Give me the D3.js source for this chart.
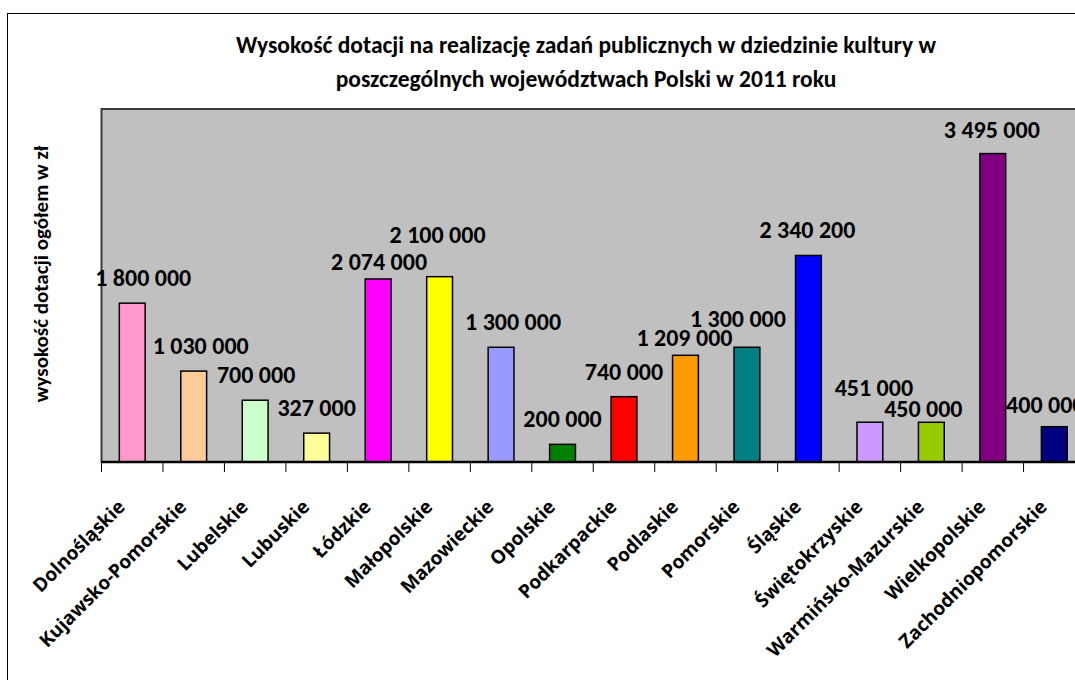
<!DOCTYPE html>
<html>
<head>
<meta charset="utf-8">
<script src="https://cdn.jsdelivr.net/npm/d3@7/dist/d3.min.js"></script>
<style>
  body { margin: 0; background: #fff; }
  svg { display: block; }
  .title, .ylabel, .value { font-family: Carlito, Lato, sans-serif; font-weight: bold; fill: #000; }
  .cat { font-family: "Open Sans", sans-serif; font-weight: bold; fill: #000; }
</style>
</head>
<body>
<svg id="chart" width="1075" height="680"></svg>
<script>
const titleLines = [
  "Wysokość dotacji na realizację zadań publicznych w dziedzinie kultury w",
  "poszczególnych województwach Polski w 2011 roku"
];
const yTitle = "wysokość dotacji ogółem w zł";

const categories = [
  "Dolnośląskie", "Kujawsko-Pomorskie", "Lubelskie", "Lubuskie", "Łódzkie",
  "Małopolskie", "Mazowieckie", "Opolskie", "Podkarpackie", "Podlaskie",
  "Pomorskie", "Śląskie", "Świętokrzyskie", "Warmińsko-Mazurskie",
  "Wielkopolskie", "Zachodniopomorskie"
];
const values = [
  1800000, 1030000, 700000, 327000, 2074000,
  2100000, 1300000, 200000, 740000, 1209000,
  1300000, 2340200, 451000, 450000,
  3495000, 400000
];
const barColors = [
  "#FF99CC", "#FFCC99", "#CCFFCC", "#FFFF99", "#FF00FF",
  "#FFFF00", "#9999FF", "#008000", "#FF0000", "#FF9900",
  "#008080", "#0000FF", "#CC99FF", "#99CC00",
  "#800080", "#000080"
];
// hand-moved data labels in the original: [dx, dy] from the default spot
const labelShift = [
  [11, 0], [7, 0], [1, 0], [0, 0], [1, 8],
  [-2, -17], [12, 0], [0, 0], [0, 0], [-1, 8],
  [-9, -3], [-1, 0], [4, -9], [-8, 12],
  [-1, 1], [-9, 3]
];

const svg = d3.select("#chart");
const plot = { left: 101.5, top: 109, bottom: 462, step: 61.47 };
const plotRight = plot.left + plot.step * categories.length;

const fmt = d3.formatLocale({ decimal: ",", thousands: " ", grouping: [3], currency: ["", ""] }).format(",");

const x = d3.scaleBand()
  .domain(categories)
  .range([plot.left, plotRight])
  .padding(0);

const y = d3.scaleLinear()
  .domain([0, 4000000])
  .range([plot.bottom, plot.top]);

// outer chart frame
svg.append("rect")
  .attr("x", 7.5).attr("y", 13.5)
  .attr("width", 1200).attr("height", 800)
  .attr("fill", "#fff").attr("stroke", "#000").attr("stroke-width", 1);

// plot area
svg.append("rect")
  .attr("x", plot.left).attr("y", plot.top)
  .attr("width", plotRight - plot.left).attr("height", plot.bottom - plot.top)
  .attr("fill", "#C0C0C0").attr("stroke", "#3a3a3a").attr("stroke-width", 2);

// title
svg.append("text")
  .attr("class", "title")
  .attr("text-anchor", "middle")
  .style("font-size", "23.5px")
  .selectAll("tspan")
  .data(titleLines)
  .join("tspan")
  .attr("x", 586)
  .attr("y", (d, i) => 53 + i * 34)
  .text(d => d);

// y title
svg.append("text")
  .attr("class", "ylabel")
  .attr("text-anchor", "middle")
  .style("font-size", "21px")
  .attr("transform", "translate(48,274) rotate(-90)")
  .text(yTitle);

// bars
const bw = x.bandwidth() * 0.42;
svg.selectAll("rect.bar")
  .data(values)
  .join("rect")
  .attr("class", "bar")
  .attr("x", (d, i) => x(categories[i]) + (x.bandwidth() - bw) / 2)
  .attr("y", d => y(d))
  .attr("width", bw)
  .attr("height", d => y(0) - y(d))
  .attr("fill", (d, i) => barColors[i])
  .attr("stroke", "#000")
  .attr("stroke-width", 1.5);

// x axis line + ticks between categories
const axisG = svg.append("g").attr("transform", `translate(0,${plot.bottom})`);
axisG.append("line")
  .attr("x1", plot.left).attr("x2", plotRight)
  .attr("stroke", "#000").attr("stroke-width", 2.5);
axisG.selectAll("line.tick")
  .data(categories)
  .join("line")
  .attr("class", "tick")
  .attr("x1", d => x(d)).attr("x2", d => x(d))
  .attr("y1", 1).attr("y2", 10)
  .attr("stroke", "#000").attr("stroke-width", 1);

// category labels
svg.selectAll("text.cat")
  .data(categories)
  .join("text")
  .attr("class", "cat")
  .attr("text-anchor", "end")
  .style("font-size", "19px")
  .attr("transform", d => `translate(${x(d) + x.bandwidth() / 2 - 6},${plot.bottom + 46}) rotate(-45)`)
  .text(d => d);

// value labels
svg.selectAll("text.value")
  .data(values)
  .join("text")
  .attr("class", "value")
  .attr("text-anchor", "middle")
  .style("font-size", "24px")
  .attr("x", (d, i) => x(categories[i]) + x.bandwidth() / 2 + labelShift[i][0])
  .attr("y", (d, i) => y(d) - 17 + labelShift[i][1])
  .text(d => fmt(d));
</script>
</body>
</html>
